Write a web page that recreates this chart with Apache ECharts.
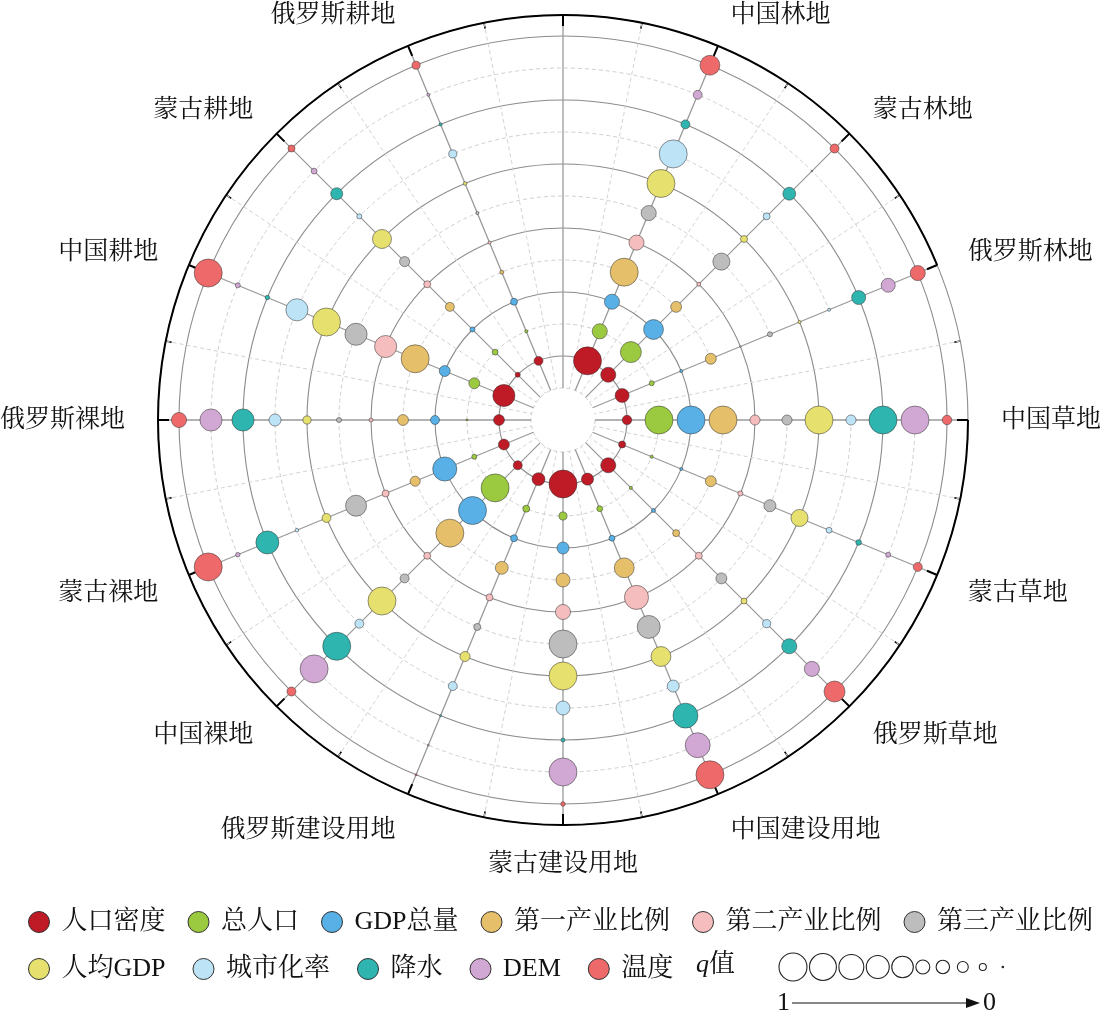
<!DOCTYPE html>
<html><head><meta charset="utf-8">
<script src="https://cdn.jsdelivr.net/npm/echarts@6/dist/echarts.min.js"></script>
<style>html,body{margin:0;padding:0;background:#fff}#c{width:1100px;height:1016px}</style>
</head><body><div id="c"></div>
<script>
// ---------------- data ----------------
const landTypes = ['中国草地','蒙古草地','俄罗斯草地','中国建设用地','蒙古建设用地','俄罗斯建设用地',
  '中国裸地','蒙古裸地','俄罗斯裸地','中国耕地','蒙古耕地','俄罗斯耕地','','中国林地','蒙古林地','俄罗斯林地'];
const factors = ['人口密度','总人口','GDP总量','第一产业比例','第二产业比例','第三产业比例',
  '人均GDP','城市化率','降水','DEM','温度'];
const factorColors = ['#BE1B26','#9BC93F','#58B0E6','#E5BF6A','#F5BDBD','#BDBDBD',
  '#E6E06E','#BDE3F7','#2FB5B0','#D1A8D3','#EE6A6A'];
// q values (0..1) for each land type, in factor order
const q中国草地     = [0.34,1.00,1.00,1.00,0.36,0.36,1.00,0.36,1.00,1.00,0.34];
const q蒙古草地     = [0.25,0.11,0.11,0.39,0.18,0.43,0.61,0.21,0.20,0.18,0.32];
const q俄罗斯草地   = [0.54,0.11,0.14,0.25,0.25,0.39,0.21,0.29,0.54,0.54,0.75];
const q中国建设用地 = [0.43,0.21,0.21,0.71,0.86,0.82,0.71,0.43,0.89,0.89,1.00];
const q蒙古建设用地 = [1.00,0.29,0.43,0.50,0.54,1.00,1.00,0.50,0.14,1.00,0.16];
const q俄罗斯建设用地 = [0.46,0.25,0.25,0.46,0.25,0.25,0.36,0.32,0.07,0.07,0.07];
const q中国裸地     = [0.32,1.00,1.00,1.00,0.25,0.32,1.00,0.32,1.00,1.00,0.32];
const q蒙古裸地     = [0.39,0.18,0.86,0.36,0.25,0.75,0.32,0.13,0.82,0.16,1.00];
const q俄罗斯裸地   = [0.39,0.07,0.32,0.39,0.14,0.18,0.29,0.43,0.79,0.79,0.54];
const q中国耕地     = [0.79,0.39,0.39,1.00,0.79,0.79,1.00,0.79,0.16,0.18,1.00];
const q蒙古耕地     = [0.18,0.21,0.18,0.32,0.25,0.36,0.68,0.18,0.43,0.21,0.25];
const q俄罗斯耕地   = [0.32,0.11,0.25,0.14,0.11,0.11,0.13,0.29,0.11,0.11,0.29];
const q中国林地     = [1.00,0.54,0.54,1.00,0.54,0.54,1.00,1.00,0.32,0.32,0.71];
const q蒙古林地     = [0.54,0.75,0.71,0.39,0.14,0.61,0.25,0.25,0.46,0.05,0.32];
const q俄罗斯林地   = [0.50,0.18,0.11,0.39,0.05,0.18,0.11,0.11,0.50,0.50,0.54];
const qLegendSamples = [1.00,0.96,0.89,0.82,0.77,0.50,0.48,0.39,0.25,0.05];

const qByLand = [q中国草地,q蒙古草地,q俄罗斯草地,q中国建设用地,q蒙古建设用地,q俄罗斯建设用地,
  q中国裸地,q蒙古裸地,q俄罗斯裸地,q中国耕地,q蒙古耕地,q俄罗斯耕地,null,q中国林地,q蒙古林地,q俄罗斯林地];

// ---------------- layout ----------------
const CX = 563, CY = 420, R_IN = 32, R_OUT = 405, STEP = 32;
const LABEL_R = 438, FS = 25, FS_LG = 26;
const FONT = "'Liberation Serif','Times New Roman','Noto Serif CJK SC','Noto Sans CJK SC',serif";
function qToSize(q) { return Math.max(1.5, q * 28); }

const angleData = landTypes.map(function (name, k) {
  const a = -k * 22.5 * Math.PI / 180;
  const c = Math.cos(a), s = Math.sin(a);
  const d = LABEL_R - R_OUT;
  const pad = [0, 0, 0, 0];
  if (Math.abs(c) >= 0.3) { if (c > 0) pad[3] = d * Math.abs(c); else pad[1] = d * Math.abs(c); }
  if (Math.abs(s) >= 0.3) {
    const v = Math.max(0, d * Math.abs(s) - FS / 2);
    if (s < 0) pad[0] = v + 6; else pad[2] = v;
  }
  return { value: name, textStyle: { padding: pad } };
});

const series = factors.map(function (f, i) {
  const data = [];
  qByLand.forEach(function (arr, k) { if (arr) data.push([i + 2, k, arr[i]]); });
  return {
    name: f, type: 'scatter', coordinateSystem: 'polar', polarIndex: 0,
    data: data,
    symbol: 'circle',
    symbolSize: function (v) { return qToSize(v[2]); },
    itemStyle: { color: factorColors[i], borderColor: 'rgba(50,50,50,0.65)', borderWidth: 0.8, opacity: 1 },
    emphasis: { disabled: true },
    z: 5
  };
});

// q legend circles
const qLegendGraphics = [];
let xPrev = null, dPrev = null;
qLegendSamples.forEach(function (q, i) {
  const d = qToSize(q);
  const x = i === 0 ? 793 : xPrev + Math.max((dPrev + d) / 2 + 2.5, 20);
  qLegendGraphics.push({ type: 'circle', shape: { cx: x, cy: 967, r: d / 2 },
    style: { fill: '#fff', stroke: '#222', lineWidth: 1.1 } });
  xPrev = x; dPrev = d;
});

const hidden = { axisLine: { show: false }, axisTick: { show: false }, axisLabel: { show: false }, splitLine: { show: false } };
const legendCommon = { icon: 'circle', itemWidth: 21, itemHeight: 21, width: 1072, orient: 'horizontal', padding: 0,
  itemStyle: { borderColor: '#333', borderWidth: 1 }, selectedMode: false,
  textStyle: { fontSize: FS_LG, color: '#111', fontFamily: FONT, padding: [0, 0, 0, 7] } };

const option = {
  animation: false,
  backgroundColor: '#fff',
  textStyle: { fontFamily: FONT },
  polar: [
    { center: [CX, CY], radius: [R_IN, R_OUT] },   // 0 data, dashed rings, spokes
    { center: [CX, CY], radius: [64, R_OUT] },     // 1 solid rings
    { center: [CX, CY], radius: [R_IN, R_OUT] },   // 2 minor dashed radial lines, minor ticks
    { center: [CX, CY], radius: [0, R_OUT] }       // 3 outer circle, major ticks, labels
  ],
  radiusAxis: [
    Object.assign({}, hidden, { polarIndex: 0, type: 'value', min: 1, max: 1 + (R_OUT - R_IN) / STEP, interval: 2,
      splitLine: { show: true, lineStyle: { color: '#cfcfcf', width: 1, type: [4, 3] } } }),
    Object.assign({}, hidden, { polarIndex: 1, type: 'value', min: 0, max: (R_OUT - 64) / STEP, interval: 2,
      splitLine: { show: true, lineStyle: { color: '#8c8c8c', width: 1.1 } } }),
    Object.assign({}, hidden, { polarIndex: 2, type: 'value', min: 0, max: 1 }),
    Object.assign({}, hidden, { polarIndex: 3, type: 'value', min: 0, max: 1 })
  ],
  angleAxis: [
    Object.assign({}, hidden, { polarIndex: 0, type: 'category', data: landTypes, boundaryGap: false,
      startAngle: 0, clockwise: true,
      splitLine: { show: true, interval: 0, lineStyle: { color: '#9a9a9a', width: 1.3 } } }),
    Object.assign({}, hidden, { polarIndex: 1, type: 'value', min: 0, max: 360 }),
    Object.assign({}, hidden, { polarIndex: 2, type: 'value', min: 0, max: 360, interval: 22.5, startAngle: 11.25,
      axisTick: { show: true, inside: true, length: 6, lineStyle: { color: '#000', width: 1.5 } },
      splitLine: { show: true, lineStyle: { color: '#d3d3d3', width: 1, type: [4, 3] } } }),
    { polarIndex: 3, type: 'category', data: angleData, boundaryGap: false, startAngle: 0, clockwise: true,
      axisLine: { show: true, lineStyle: { color: '#000', width: 2 } },
      axisTick: { show: true, inside: true, length: 11, interval: 0, lineStyle: { color: '#000', width: 2 } },
      axisLabel: { show: true, interval: 0, margin: 0, fontSize: FS, color: '#111', fontFamily: FONT },
      splitLine: { show: false } }
  ],
  legend: [
    Object.assign({}, legendCommon, { data: factors.slice(0, 6), left: 28, top: 909, itemGap: 22 }),
    Object.assign({}, legendCommon, { data: factors.slice(6), left: 28, top: 956, itemGap: 27 })
  ],
  graphic: [
    { type: 'text', left: 696, top: 952, style: { text: '{q|q}值', fontSize: FS_LG, fontFamily: FONT, fill: '#111',
      rich: { q: { fontStyle: 'italic', fontSize: FS_LG, fontFamily: FONT } } } },
    { type: 'text', left: 777, top: 990, style: { text: '1', fontSize: FS_LG, fontFamily: FONT, fill: '#111' } },
    { type: 'line', shape: { x1: 792, y1: 1003, x2: 970, y2: 1003 }, style: { stroke: '#111', lineWidth: 1.2 } },
    { type: 'polygon', shape: { points: [[980, 1003], [966, 998], [966, 1008]] }, style: { fill: '#111' } },
    { type: 'text', left: 983, top: 990, style: { text: '0', fontSize: FS_LG, fontFamily: FONT, fill: '#111' } }
  ].concat(qLegendGraphics),
  series: series
};

const chart = echarts.init(document.getElementById('c'), null, { renderer: 'canvas' });
chart.setOption(option);
</script>
</body></html>
